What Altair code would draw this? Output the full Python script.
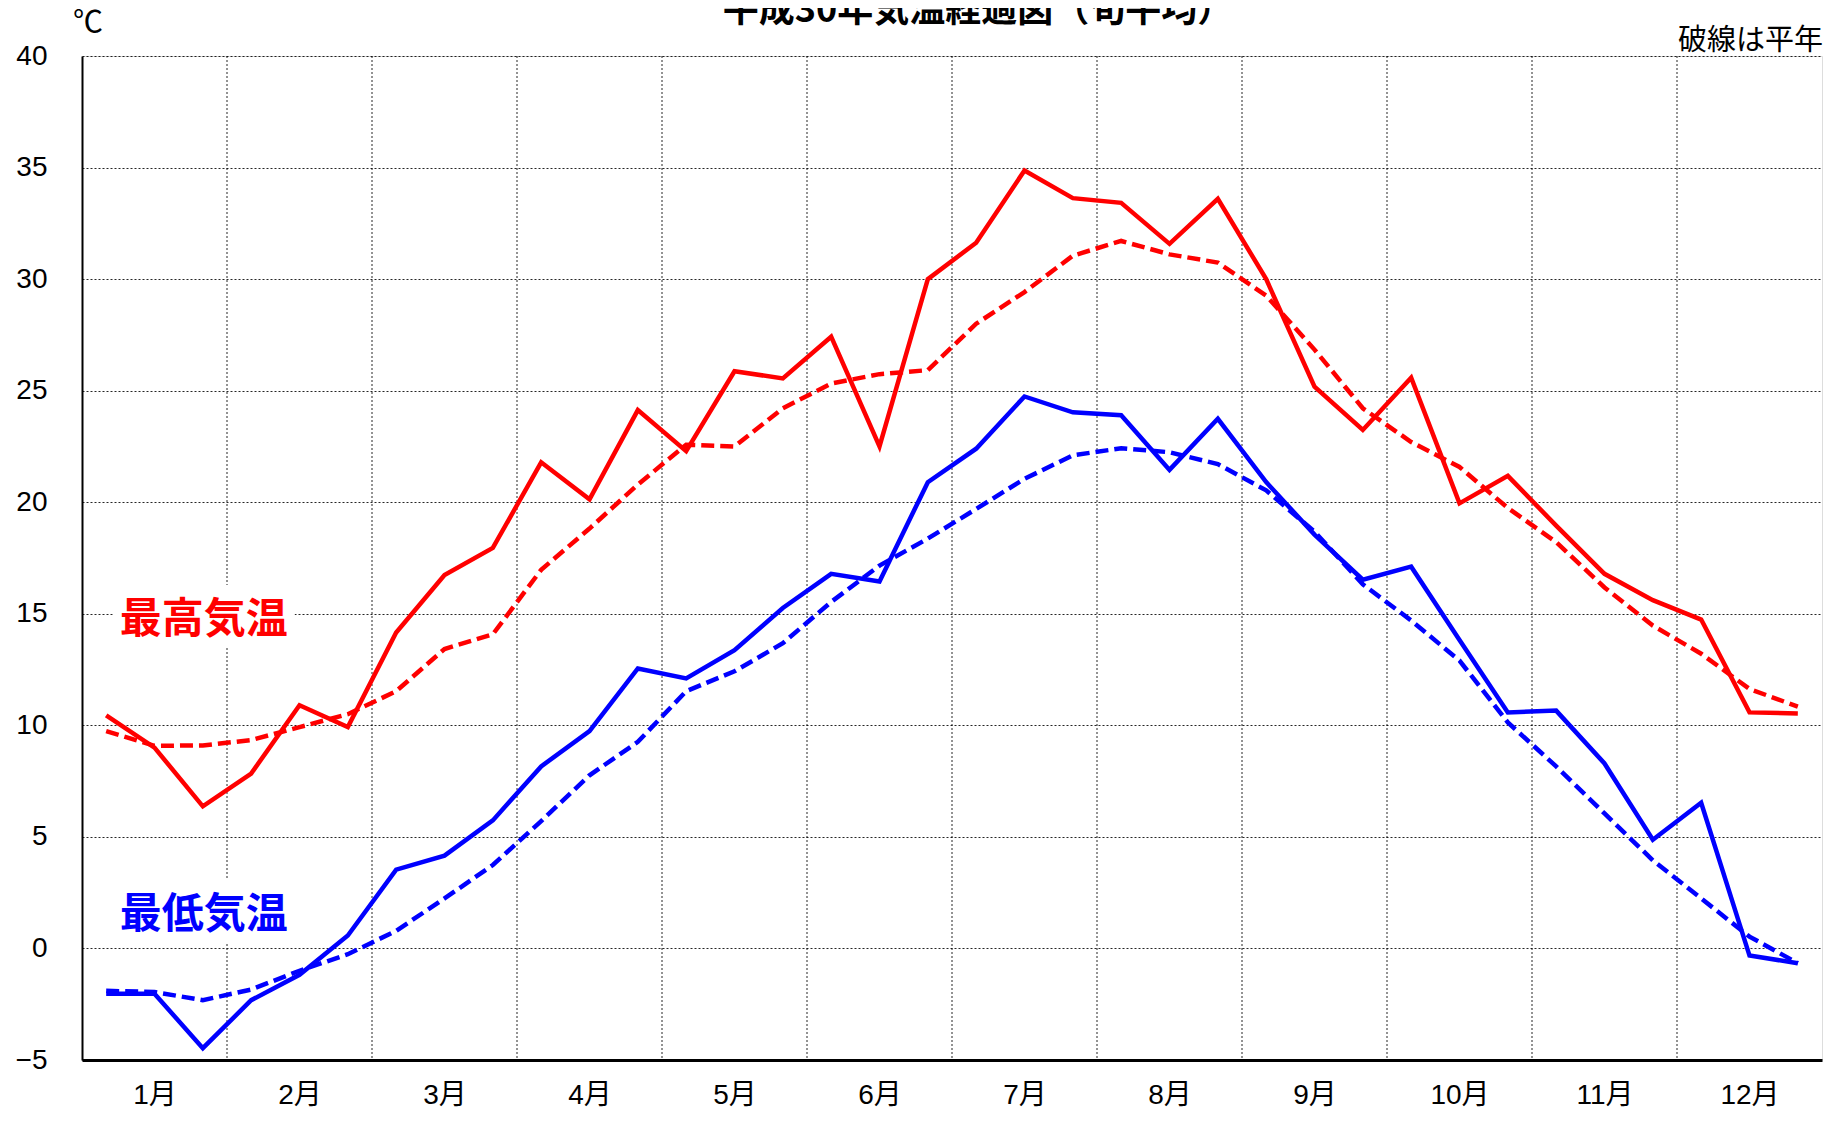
import altair as alt
import pandas as pd

# ---- data (旬平均, 36 decades) ----
decade = list(range(36))
max_2018 = [10.45, 9.0, 6.37, 7.84, 10.9, 9.92, 14.16, 16.74, 17.95,
            21.79, 20.13, 24.13, 22.29, 25.87, 25.55, 27.42, 22.5, 30.0,
            31.63, 34.87, 33.63, 33.42, 31.58, 33.6, 30.0, 25.18, 23.24,
            25.58, 19.95, 21.18, 18.95, 16.79, 15.61, 14.74, 10.58, 10.53]
max_normal = [9.74, 9.08, 9.1, 9.34, 9.92, 10.5, 11.53, 13.42, 14.08,
              16.97, 18.82, 20.79, 22.58, 22.5, 24.21, 25.32, 25.74, 25.92,
              28.0, 29.42, 31.05, 31.71, 31.11, 30.74, 29.26, 26.84, 24.21,
              22.7, 21.58, 19.74, 18.21, 16.18, 14.47, 13.21, 11.63, 10.84]
min_2018 = [-2.03, -2.03, -4.47, -2.32, -1.18, 0.58, 3.53, 4.16, 5.74,
            8.16, 9.74, 12.55, 12.1, 13.37, 15.26, 16.79, 16.45, 20.9,
            22.4, 24.74, 24.03, 23.9, 21.45, 23.74, 20.9, 18.55, 16.53,
            17.11, 13.82, 10.58, 10.66, 8.29, 4.87, 6.53, -0.32, -0.66]
min_normal = [-1.9, -1.95, -2.32, -1.84, -1.0, -0.26, 0.79, 2.24, 3.74,
              5.71, 7.76, 9.26, 11.53, 12.42, 13.68, 15.53, 17.16, 18.37,
              19.7, 21.05, 22.1, 22.42, 22.24, 21.71, 20.53, 18.68, 16.32,
              14.7, 12.9, 10.13, 8.16, 6.05, 3.95, 2.24, 0.53, -0.66]

month_centers = [1.5 + 3 * m for m in range(12)]
month_bounds = [3 * m for m in range(1, 12)]
y_ticks = [-5, 0, 5, 10, 15, 20, 25, 30, 35, 40]

title_text = "平成30年気温経過図（旬平均）"
unit_text = "℃"
note_text = "破線は平年"
label_names = ["最高気温", "最低気温"]
label_colors = ["#FF0000", "#0000FF"]
label_x = [0.78, 0.78]
label_y = [14.7, 1.5]
box_x = [0.64, 0.64]
box_x2 = [4.4, 4.4]
box_y = [16.29, 3.07]
box_y2 = [13.47, 0.24]

RED = "#FF0000"
BLUE = "#0000FF"
FONT = "Liberation Sans, Noto Sans CJK JP"
CJK = "Noto Sans CJK JP"

W, H = 1740, 1004

df = pd.DataFrame({
    "x": [d + 0.5 for d in decade],
    "max_2018": max_2018,
    "max_normal": max_normal,
    "min_2018": min_2018,
    "min_normal": min_normal,
})

xscale = alt.Scale(domain=[0, 36], nice=False, zero=False)
yscale = alt.Scale(domain=[-5, 40], nice=False, zero=False)

xaxis = alt.Axis(values=month_centers, labelExpr="(floor(datum.value/3)+1) + '月'",
                 grid=False, ticks=False, title=None, labelFont=FONT,
                 labelFontSize=28, labelColor="#000", labelPadding=21,
                 domainColor="#000", domainWidth=3)
yaxis = alt.Axis(values=y_ticks, grid=True, gridColor="#000", gridDash=[2, 2],
                 gridWidth=1, gridOpacity=0.85, ticks=False, title=None,
                 labelFont=FONT, labelFontSize=28, labelColor="#000",
                 labelPadding=35, domainColor="#000", domainWidth=2)

base = alt.Chart(df)

# vertical month-boundary grid
vgrid = alt.Chart(pd.DataFrame({"b": month_bounds})).mark_rule(
    color="#000", strokeDash=[2, 2], strokeWidth=1, opacity=0.85
).encode(x=alt.X("b:Q", scale=xscale, axis=xaxis))

# white boxes behind labels
boxes_df = pd.DataFrame({"x": box_x, "x2": box_x2, "y": box_y, "y2": box_y2})
boxes = alt.Chart(boxes_df).mark_rect(color="white").encode(
    x=alt.X("x:Q", scale=xscale), x2="x2:Q",
    y=alt.Y("y:Q", scale=yscale, axis=yaxis), y2="y2:Q")


def line(field, color, dash=None):
    kw = dict(color=color, strokeWidth=4.5)
    if dash:
        kw["strokeDash"] = dash
    return base.mark_line(**kw).encode(
        x=alt.X("x:Q", scale=xscale, axis=xaxis),
        y=alt.Y(f"{field}:Q", scale=yscale, axis=yaxis),
    )


lines = [
    line("max_normal", RED, [13, 6]),
    line("min_normal", BLUE, [13, 6]),
    line("max_2018", RED),
    line("min_2018", BLUE),
]

lab_df = pd.DataFrame({"t": label_names, "x": label_x, "y": label_y, "c": label_colors})
labels = alt.Chart(lab_df).mark_text(
    align="left", baseline="middle", font=CJK, fontSize=42, fontWeight="bold"
).encode(
    x=alt.X("x:Q", scale=xscale), y=alt.Y("y:Q", scale=yscale),
    text="t:N", color=alt.Color("c:N", scale=None),
)

title = alt.Chart(pd.DataFrame({"t": [title_text]})).mark_text(
    align="center", baseline="bottom", font=CJK, fontSize=36, fontWeight="bold",
    color="#000").encode(x=alt.value(W / 2 + 26), y=alt.value(-26), text="t:N")
unit = alt.Chart(pd.DataFrame({"t": [unit_text]})).mark_text(
    align="center", baseline="bottom", font=CJK, fontSize=30, color="#000"
).encode(x=alt.value(6), y=alt.value(-18), text="t:N")
note = alt.Chart(pd.DataFrame({"t": [note_text]})).mark_text(
    align="right", baseline="bottom", font=CJK, fontSize=29, color="#000"
).encode(x=alt.value(W + 1), y=alt.value(0), text="t:N")

chart = alt.layer(vgrid, boxes, *lines, labels, title, unit, note).properties(
    width=W, height=H,
    autosize=alt.AutoSizeParams(type="none"),
    padding={"left": 74, "top": 48, "right": 1, "bottom": 48},
).configure_view(stroke="#555", strokeWidth=2).configure(background="white")

chart.save("out.html", embed_options={"renderer": "svg", "actions": False})
